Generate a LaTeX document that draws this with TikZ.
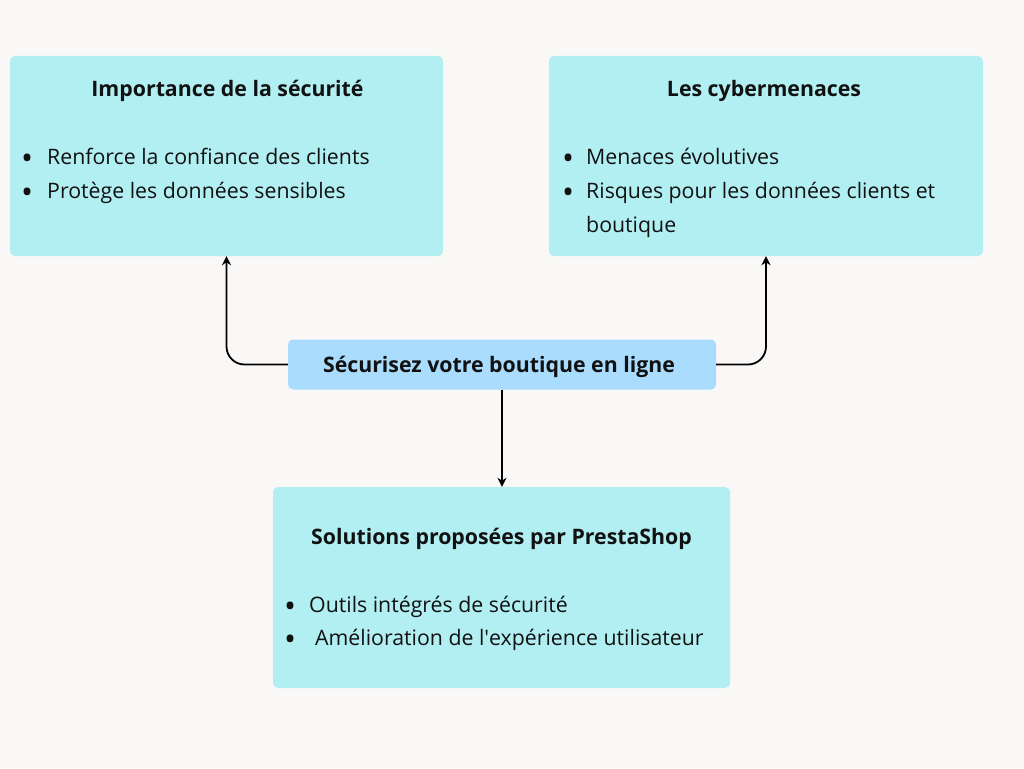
\documentclass[tikz,border=0pt]{standalone}
\usepackage{fontspec}
\setmainfont{Open Sans}
\usetikzlibrary{arrows.meta}

\definecolor{pagebg}{HTML}{FAF8F7}
\definecolor{boxcyan}{HTML}{B1EFF2}
\definecolor{hubblue}{HTML}{A9DCFD}
\definecolor{inkdark}{HTML}{111111}

\tikzset{
  box/.style={fill=boxcyan, rounded corners=5pt, inner sep=0pt},
  hubbox/.style={fill=hubblue, rounded corners=5pt, inner sep=0pt},
  titletext/.style={font=\fontsize{21.3}{34}\selectfont\bfseries, text=inkdark, inner sep=0pt, anchor=base},
  itemtext/.style={font=\fontsize{21.3}{34}\selectfont, text=inkdark, inner sep=0pt, anchor=base west},
  link/.style={line width=1.8pt, draw=black, -{Stealth[length=9pt,width=9pt]}},
}

\newcommand{\bigdot}{\raisebox{-5.5pt}{\scalebox{1.5}{\textbullet}}}
\newcommand{\itembullet}[1][13pt]{\llap{\bigdot\hspace{#1}}}

\begin{document}
\begin{tikzpicture}[x=1pt,y=-1pt]

\fill[pagebg] (0,0) rectangle (1024,768);
\useasboundingbox (0,0) rectangle (1024,768);

% boxes
\node[box, minimum width=433pt, minimum height=200pt] (imp) at (226.5,156) {};
\node[box, minimum width=434pt, minimum height=200pt] (cyb) at (766,156) {};
\node[hubbox, minimum width=428pt, minimum height=50pt] (hub) at (502,364.5) {};
\node[box, minimum width=457pt, minimum height=201pt] (sol) at (501.5,587.5) {};

% titles
\node[titletext] (impT) at (227.5,96) {Importance de la sécurité};
\node[titletext] (cybT) at (764,96) {Les cybermenaces};
\node[titletext] (hubT) at (499,372.5) {Sécurisez votre boutique en ligne};
\node[titletext] (solT) at (501.5,544) {Solutions proposées par PrestaShop};

% items
\node[itemtext] (imp1) at (47,164) {\itembullet[14pt]Renforce la confiance des clients};
\node[itemtext] (imp2) at (47,198) {\itembullet[14pt]Protège les données sensibles};

\node[itemtext] (cyb1) at (586,164) {\itembullet[12pt]Menaces évolutives};
\node[itemtext] (cyb2) at (586,198) {\itembullet[12pt]Risques pour les données clients et};
\node[itemtext] (cyb3) at (586,232) {boutique};

\node[itemtext] (sol1) at (309,612) {\itembullet Outils intégrés de sécurité};
\node[itemtext] (sol2) at (315,645) {\itembullet[19pt]Amélioration de l\textquotesingle expérience utilisateur};

% connectors
\draw[link, rounded corners=18pt] (hub.west) -| (imp.south);
\draw[link, rounded corners=18pt] (hub.east) -| (cyb.south);
\draw[link] (hub.south) -- (hub.south |- sol.north);

\end{tikzpicture}
\end{document}
